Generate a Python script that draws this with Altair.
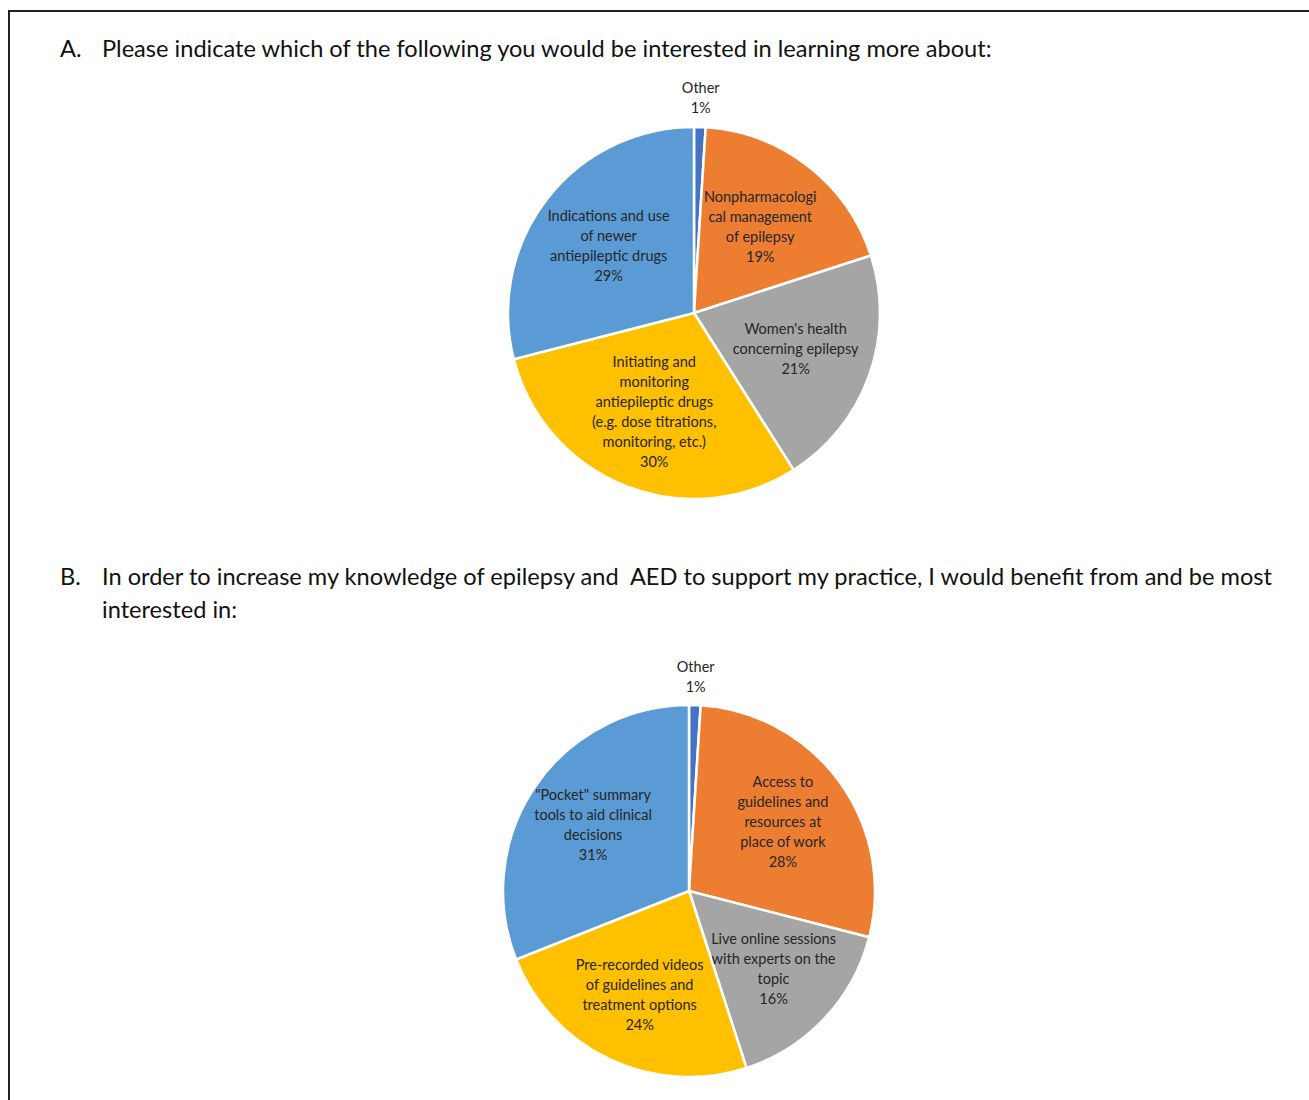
import altair as alt
import pandas as pd

# ---------------- data ----------------
a_cats = [
    "Other",
    "Nonpharmacologi\ncal management\nof epilepsy",
    "Women's health\nconcerning epilepsy",
    "Initiating and\nmonitoring\nantiepileptic drugs\n(e.g. dose titrations,\nmonitoring, etc.)",
    "Indications and use\nof newer\nantiepileptic drugs",
]
a_vals = [1, 19, 21, 30, 29]

b_cats = [
    "Other",
    "Access to\nguidelines and\nresources at\nplace of work",
    "Live online sessions\nwith experts on the\ntopic",
    "Pre-recorded videos\nof guidelines and\ntreatment options",
    "\"Pocket\" summary\ntools to aid clinical\ndecisions",
]
b_vals = [1, 28, 16, 24, 31]

slice_colors = ["#4472C4", "#ED7D31", "#A5A5A5", "#FFC000", "#5B9BD5"]

title_a = "Please indicate which of the following you would be interested in learning more about:"
title_b1 = "In order to increase my knowledge of epilepsy and\u00a0 AED to support my practice, I would benefit from and be most"
title_b2 = "interested in:"

W, H = 1309, 1100
FONT = "Lato"
TXT = "#262626"
LH = 20
LSIZE = 14.5


def frame(cats, vals):
    return pd.DataFrame({
        "cat": cats,
        "val": vals,
        "idx": list(range(len(cats))),
        "label": [f"{c}\n{v}%" for c, v in zip(cats, vals)],
    })


def pie(df, cx, cy, r_in, r_out):
    base = alt.Chart(df)
    arc = base.mark_arc(outerRadius=186, stroke="white", strokeWidth=2.5).encode(
        theta=alt.Theta("val:Q", stack=True, scale=alt.Scale(domain=[0, 100])),
        color=alt.Color("idx:O", scale=alt.Scale(domain=list(range(5)), range=slice_colors), legend=None),
        order=alt.Order("idx:Q"),
        x=alt.value(cx),
        y=alt.value(cy),
    )
    # stack + mid angle; shift origin up so multi-line blocks are centred on the anchor
    lab = base.transform_stack(
        stack="val", groupby=[], as_=["v0", "v1"], sort=[alt.SortField(field="idx", order="ascending")]
    ).transform_calculate(
        mid="(datum.v0 + datum.v1) / 2",
        oy=f"{cy} - (length(split(datum.label, '\\n')) - 1) * {LH} / 2",
    )

    def lbl(filt, r):
        return lab.transform_filter(filt).mark_text(
            radius=r, lineBreak="\n", font=FONT, fontSize=LSIZE, lineHeight=LH, color=TXT,
            align="center", baseline="middle"
        ).encode(
            theta=alt.Theta("mid:Q", scale=alt.Scale(domain=[0, 100])),
            text="label:N",
            x=alt.value(cx),
            y=alt.Y("oy:Q", scale=None),
        )

    return [arc, lbl("datum.idx > 0", r_in), lbl("datum.idx == 0", r_out)]


def text_line(t, x, y, size=23.6):
    return alt.Chart(pd.DataFrame({"t": [t]})).mark_text(
        align="left", baseline="middle", font=FONT, fontSize=size, color="#111111"
    ).encode(text="t:N", x=alt.value(x), y=alt.value(y))


border = alt.Chart(pd.DataFrame({"a": [0]})).mark_rect(
    fillOpacity=0, stroke="#222222", strokeWidth=2
).encode(x=alt.value(9), x2=alt.value(1340), y=alt.value(11), y2=alt.value(1140))

layers = [border]
layers += [text_line("A.", 60, 50), text_line(title_a, 102, 50)]
layers += [text_line("B.", 60, 578), text_line(title_b1, 102, 578), text_line(title_b2, 102, 611)]
layers += pie(frame(a_cats, a_vals), 694, 313, 108, 214)
layers += pie(frame(b_cats, b_vals), 689, 891, 116, 213)

chart = alt.layer(*layers).properties(
    width=W, height=H, autosize=alt.AutoSizeParams(type="none"), padding=0, background="white"
).configure_view(stroke=None)

chart.save("out.html", embed_options={"renderer": "svg", "actions": False})
